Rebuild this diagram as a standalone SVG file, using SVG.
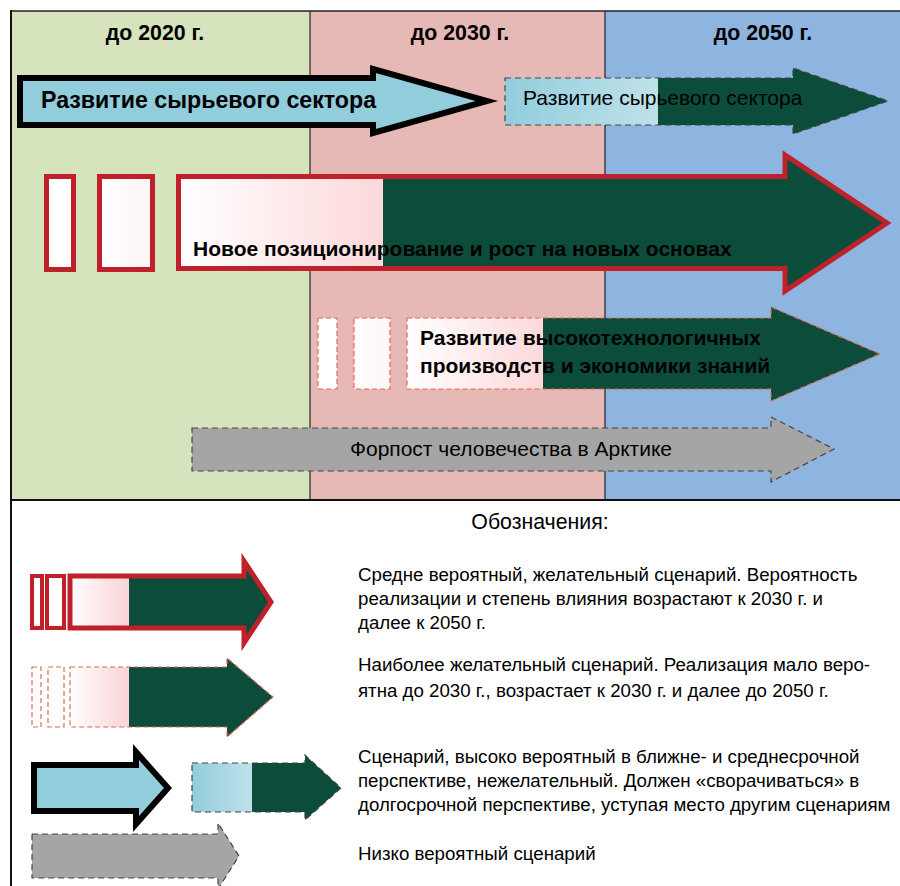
<svg xmlns="http://www.w3.org/2000/svg" width="900" height="886" viewBox="0 0 900 886">
<defs>
<style>
.hdr{font-family:"Liberation Sans",Arial,sans-serif;font-weight:bold;font-size:21.3px;text-anchor:middle;fill:#000}
.b{font-family:"Liberation Sans",Arial,sans-serif;font-weight:bold;font-size:21px;fill:#000}
.n{font-family:"Liberation Sans",Arial,sans-serif;font-size:21px;fill:#000}
.lg{font-family:"Liberation Sans",Arial,sans-serif;font-size:18.7px;fill:#000}
.red{stroke:#c0202a;stroke-width:5}
.dred{stroke:#e06a50;stroke-width:1.2;stroke-dasharray:5,3}
.dgray{stroke:#444;stroke-width:1.2;stroke-dasharray:6,4}
</style>
<linearGradient id="gBlue1" gradientUnits="userSpaceOnUse" x1="505" y1="0" x2="888" y2="0">
<stop offset="0" stop-color="#92cddc"/><stop offset="0.4" stop-color="#bfe1ea"/><stop offset="0.4" stop-color="#0b4d3a"/><stop offset="1" stop-color="#0b4d3a"/>
</linearGradient>
<linearGradient id="gRed2" gradientUnits="userSpaceOnUse" x1="180" y1="0" x2="893" y2="0">
<stop offset="0" stop-color="#ffffff"/><stop offset="0.2847" stop-color="#fdd8da"/><stop offset="0.2847" stop-color="#0b4d3a"/><stop offset="1" stop-color="#0b4d3a"/>
</linearGradient>
<linearGradient id="gRed3" gradientUnits="userSpaceOnUse" x1="407" y1="0" x2="880" y2="0">
<stop offset="0" stop-color="#ffffff"/><stop offset="0.2875" stop-color="#fdd8da"/><stop offset="0.2875" stop-color="#0b4d3a"/><stop offset="1" stop-color="#0b4d3a"/>
</linearGradient>
<linearGradient id="gLeg1" gradientUnits="userSpaceOnUse" x1="70" y1="0" x2="277" y2="0">
<stop offset="0" stop-color="#ffffff"/><stop offset="0.285" stop-color="#f9d3d6"/><stop offset="0.285" stop-color="#0b4d3a"/><stop offset="1" stop-color="#0b4d3a"/>
</linearGradient>
<linearGradient id="gLeg2" gradientUnits="userSpaceOnUse" x1="70" y1="0" x2="273" y2="0">
<stop offset="0" stop-color="#ffffff"/><stop offset="0.291" stop-color="#f9d3d6"/><stop offset="0.291" stop-color="#0b4d3a"/><stop offset="1" stop-color="#0b4d3a"/>
</linearGradient>
<linearGradient id="gLeg4" gradientUnits="userSpaceOnUse" x1="192" y1="0" x2="341" y2="0">
<stop offset="0" stop-color="#92cddc"/><stop offset="0.403" stop-color="#c0e1ea"/><stop offset="0.403" stop-color="#0b4d3a"/><stop offset="1" stop-color="#0b4d3a"/>
</linearGradient>
<linearGradient id="gSmall" x1="0" y1="0" x2="1" y2="0">
<stop offset="0" stop-color="#ffffff"/><stop offset="1" stop-color="#fdf4f5"/>
</linearGradient>
</defs>
<rect x="0" y="0" width="900" height="886" fill="#ffffff"/>
<g id="background">
<rect x="11" y="11" width="299" height="489" fill="#d6e4bd"/>
<rect x="310" y="11" width="295" height="489" fill="#e6b9b7"/>
<rect x="605" y="11" width="295" height="489" fill="#8eb4e0"/>
<line x1="11" y1="11" x2="900" y2="11" stroke="#222" stroke-width="1.5"/>
<line x1="310" y1="11" x2="310" y2="500" stroke="#222" stroke-width="1.2"/>
<line x1="605" y1="11" x2="605" y2="500" stroke="#222" stroke-width="1.2"/>
<line x1="11" y1="500" x2="900" y2="500" stroke="#111" stroke-width="2"/>
<line x1="11" y1="10" x2="11" y2="886" stroke="#111" stroke-width="2"/>
<text class="hdr" x="155" y="40">до 2020 г.</text>
<text class="hdr" x="460" y="40">до 2030 г.</text>
<text class="hdr" x="763" y="40">до 2050 г.</text>
</g>
<g id="arrow-raw1">
<path d="M20,78 H373 V69 L487,101 L373,133 V125 H20 Z" fill="#92cddc" stroke="#000" stroke-width="6"/>
<text class="b" x="41" y="108" style="font-size:23.2px">Развитие сырьевого сектора</text>
</g>
<g id="arrow-raw2">
<path d="M505,78 H793 V68 L888,101 L793,134 V125 H505 Z" fill="url(#gBlue1)" class="dgray"/>
<text class="n" x="523" y="105">Развитие сырьевого сектора</text>
</g>
<g id="arrow-new">
<rect x="46.5" y="176.5" width="27" height="93" fill="#ffffff" class="red"/>
<rect x="99.5" y="176.5" width="53" height="93" fill="url(#gSmall)" class="red"/>
<path d="M178.5,176.5 H785 V155 L887,223 L785,291 V268.5 H178.5 Z" fill="url(#gRed2)" stroke="#c0202a" stroke-width="5"/>
<text class="b" x="193" y="256">Новое позиционирование и рост на новых основах</text>
</g>
<g id="arrow-hightech">
<rect x="318" y="318" width="19" height="71" fill="#ffffff" class="dred"/>
<rect x="354" y="318" width="36" height="71" fill="url(#gSmall)" class="dred"/>
<path d="M407,318 H771 V307 L880,354 L771,401 V389 H407 Z" fill="url(#gRed3)" class="dred"/>
<text class="b" x="420" y="345">Развитие высокотехнологичных</text>
<text class="b" x="420" y="373">производств и экономики знаний</text>
</g>
<g id="arrow-outpost">
<path d="M192,428 H771 V417 L834,449 L771,482 V471 H192 Z" fill="#a5a5a5" class="dgray"/>
<text class="n" x="350" y="456">Форпост человечества в Арктике</text>
</g>
<g id="legend">
<text class="n" x="540" y="529" text-anchor="middle" style="font-size:21.3px">Обозначения:</text>
<g id="legend-1">
<rect x="32" y="576" width="10" height="52" fill="#ffffff" stroke="#c0202a" stroke-width="4"/>
<rect x="47" y="576" width="17" height="52" fill="#ffffff" stroke="#c0202a" stroke-width="4"/>
<path d="M70,576 H244 V561 L271,602 L244,643 V628 H70 Z" fill="url(#gLeg1)" stroke="#c0202a" stroke-width="5"/>
<text class="lg" x="358" y="581">Средне вероятный, желательный сценарий. Вероятность</text>
<text class="lg" x="358" y="605">реализации и степень влияния возрастают к 2030 г. и</text>
<text class="lg" x="358" y="629">далее к 2050 г.</text>
</g>
<g id="legend-2">
<rect x="32" y="667" width="9" height="60" fill="#ffffff" class="dred"/>
<rect x="48" y="667" width="16" height="60" fill="#ffffff" class="dred"/>
<path d="M70,667 H227 V658 L273,697 L227,737 V727 H70 Z" fill="url(#gLeg2)" class="dred"/>
<text class="lg" x="358" y="671">Наиболее желательный сценарий. Реализация мало веро-</text>
<text class="lg" x="358" y="697">ятна до 2030 г., возрастает к 2030 г. и далее до 2050 г.</text>
</g>
<g id="legend-3">
<path d="M34,765 H136 V752 L168,788 L136,824 V811 H34 Z" fill="#92cddc" stroke="#000" stroke-width="6"/>
<path d="M192,763 H305 V755 L341,788 L305,820 V812 H192 Z" fill="url(#gLeg4)" class="dgray"/>
<text class="lg" x="358" y="763">Сценарий, высоко вероятный в ближне- и среднесрочной</text>
<text class="lg" x="358" y="787">перспективе, нежелательный. Должен «сворачиваться» в</text>
<text class="lg" x="358" y="811">долгосрочной перспективе, уступая место другим сценариям</text>
</g>
<g id="legend-4">
<path d="M32,834 H218 V823 L239,856 L218,889 V878 H32 Z" fill="#a5a5a5" class="dgray"/>
<text class="lg" x="358" y="860">Низко вероятный сценарий</text>
</g>
</g>
<g id="connectors"></g>
</svg>
